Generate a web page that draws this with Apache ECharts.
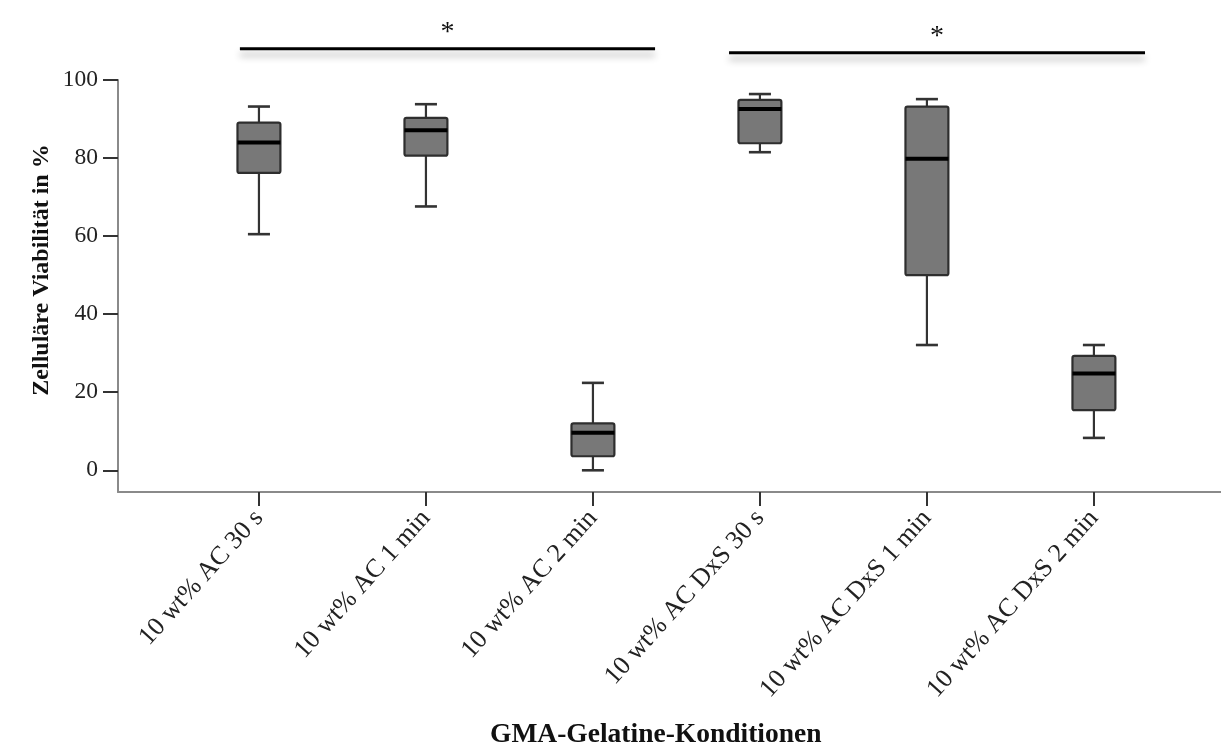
<!DOCTYPE html>
<html>
<head>
<meta charset="utf-8">
<script src="https://cdn.jsdelivr.net/npm/echarts@6/dist/echarts.min.js"></script>
<style>
  html, body { margin: 0; padding: 0; background: #fff; }
  #chart { width: 1221px; height: 755px; }
</style>
</head>
<body>
<div id="chart"></div>
<script>
// ---- data ----
const categories = ['10 wt% AC 30 s', '10 wt% AC 1 min', '10 wt% AC 2 min',
                    '10 wt% AC DxS 30 s', '10 wt% AC DxS 1 min', '10 wt% AC DxS 2 min'];
const positions = [1, 2, 3, 4, 5, 6];
const whiskerLow  = [60.5, 67.6, 0.0, 81.5, 32.1, 8.3];
const quartile1   = [76.2, 80.6, 3.6, 83.8, 50.0, 15.4];
const medians     = [84.0, 87.1, 9.6, 92.6, 79.8, 24.8];
const quartile3   = [89.1, 90.3, 12.0, 94.9, 93.2, 29.3];
const whiskerHigh = [93.2, 93.8, 22.4, 96.4, 95.1, 32.1];
const yTicks = [0, 20, 40, 60, 80, 100];
// significance bars: [xStart, xEnd, yLevel]
const sigStart = [0.886, 3.815];
const sigEnd   = [3.372, 6.306];
const sigLevel = [108.0, 107.0];
const sigText  = ['*', '*'];

const boxData = positions.map((p, i) =>
  [p, whiskerLow[i], quartile1[i], medians[i], quartile3[i], whiskerHigh[i]]);
const sigData = sigStart.map((s, i) => [s, sigEnd[i], sigLevel[i]]);

const BOX_W = 0.257, CAP_W = 0.132;
const serif = 'Liberation Serif, Times New Roman, serif';

const chart = echarts.init(document.getElementById('chart'));
chart.setOption({
  animation: false,
  backgroundColor: '#ffffff',
  grid: { left: 118, right: 0, top: 80, bottom: 263, containLabel: false },
  xAxis: {
    type: 'value', min: 0.156, max: 6.761,
    axisLine: { show: true, onZero: false, lineStyle: { color: '#8a8a8a', width: 2 } },
    axisTick: { show: true, customValues: positions, length: 14, lineStyle: { color: '#333', width: 2 } },
    axisLabel: {
      customValues: positions,
      formatter: v => categories[Math.round(v) - 1] || '',
      rotate: 48, margin: 22,
      fontFamily: serif, fontSize: 26, color: '#222'
    },
    splitLine: { show: false }
  },
  yAxis: {
    type: 'value', min: -5.56, max: 100,
    axisLine: { show: true, onZero: false, lineStyle: { color: '#8a8a8a', width: 2 } },
    axisTick: { show: true, customValues: yTicks, length: 15, lineStyle: { color: '#333', width: 2 } },
    axisLabel: { customValues: yTicks, margin: 20, fontFamily: serif, fontSize: 23.5, color: '#222' },
    splitLine: { show: false }
  },
  graphic: [
    { type: 'text', left: 490, top: 721,
      style: { text: 'GMA-Gelatine-Konditionen', font: 'bold 27.5px ' + serif, fill: '#111' } },
    { type: 'text', x: 42, y: 270, rotation: Math.PI / 2,
      style: { text: 'Zelluläre Viabilität in %', font: 'bold 24px ' + serif, fill: '#111',
               align: 'center', verticalAlign: 'middle' } }
  ],
  series: [
    {
      type: 'custom',
      data: boxData,
      encode: { x: 0, y: [1, 2, 3, 4, 5] },
      renderItem: (params, api) => {
        const x = api.value(0);
        const lo = api.coord([x, api.value(1)]);
        const q1 = api.coord([x, api.value(2)]);
        const md = api.coord([x, api.value(3)]);
        const q3 = api.coord([x, api.value(4)]);
        const hi = api.coord([x, api.value(5)]);
        const bw = api.size([BOX_W, 0])[0];
        const cw = api.size([CAP_W, 0])[0];
        const ls = { stroke: '#333', lineWidth: 2.2 };
        return {
          type: 'group',
          children: [
            { type: 'line', shape: { x1: hi[0], y1: hi[1], x2: q3[0], y2: q3[1] }, style: ls },
            { type: 'line', shape: { x1: q1[0], y1: q1[1], x2: lo[0], y2: lo[1] }, style: ls },
            { type: 'line', shape: { x1: hi[0] - cw / 2, y1: hi[1], x2: hi[0] + cw / 2, y2: hi[1] }, style: { stroke: '#333', lineWidth: 2.6 } },
            { type: 'line', shape: { x1: lo[0] - cw / 2, y1: lo[1], x2: lo[0] + cw / 2, y2: lo[1] }, style: { stroke: '#333', lineWidth: 2.6 } },
            { type: 'rect', shape: { x: q3[0] - bw / 2, y: q3[1], width: bw, height: q1[1] - q3[1], r: 2 },
              style: { fill: '#787878', stroke: '#2e2e2e', lineWidth: 2.2 } },
            { type: 'line', shape: { x1: md[0] - bw / 2, y1: md[1], x2: md[0] + bw / 2, y2: md[1] },
              style: { stroke: '#000', lineWidth: 4 } }
          ]
        };
      }
    },
    {
      type: 'custom',
      data: sigData,
      clip: false,
      encode: { x: [0, 1], y: 2 },
      renderItem: (params, api) => {
        const a = api.coord([api.value(0), api.value(2)]);
        const b = api.coord([api.value(1), api.value(2)]);
        return {
          type: 'group',
          children: [
            { type: 'line', shape: { x1: a[0], y1: a[1], x2: b[0], y2: b[1] },
              style: { stroke: '#000', lineWidth: 3, shadowBlur: 7, shadowOffsetY: 6, shadowColor: 'rgba(0,0,0,0.3)' } },
            { type: 'text', x: (a[0] + b[0]) / 2, y: a[1] - 2,
              style: { text: sigText[params.dataIndex], font: '28px ' + serif, fill: '#111',
                       align: 'center', verticalAlign: 'bottom' } }
          ]
        };
      }
    }
  ]
});
</script>
</body>
</html>
